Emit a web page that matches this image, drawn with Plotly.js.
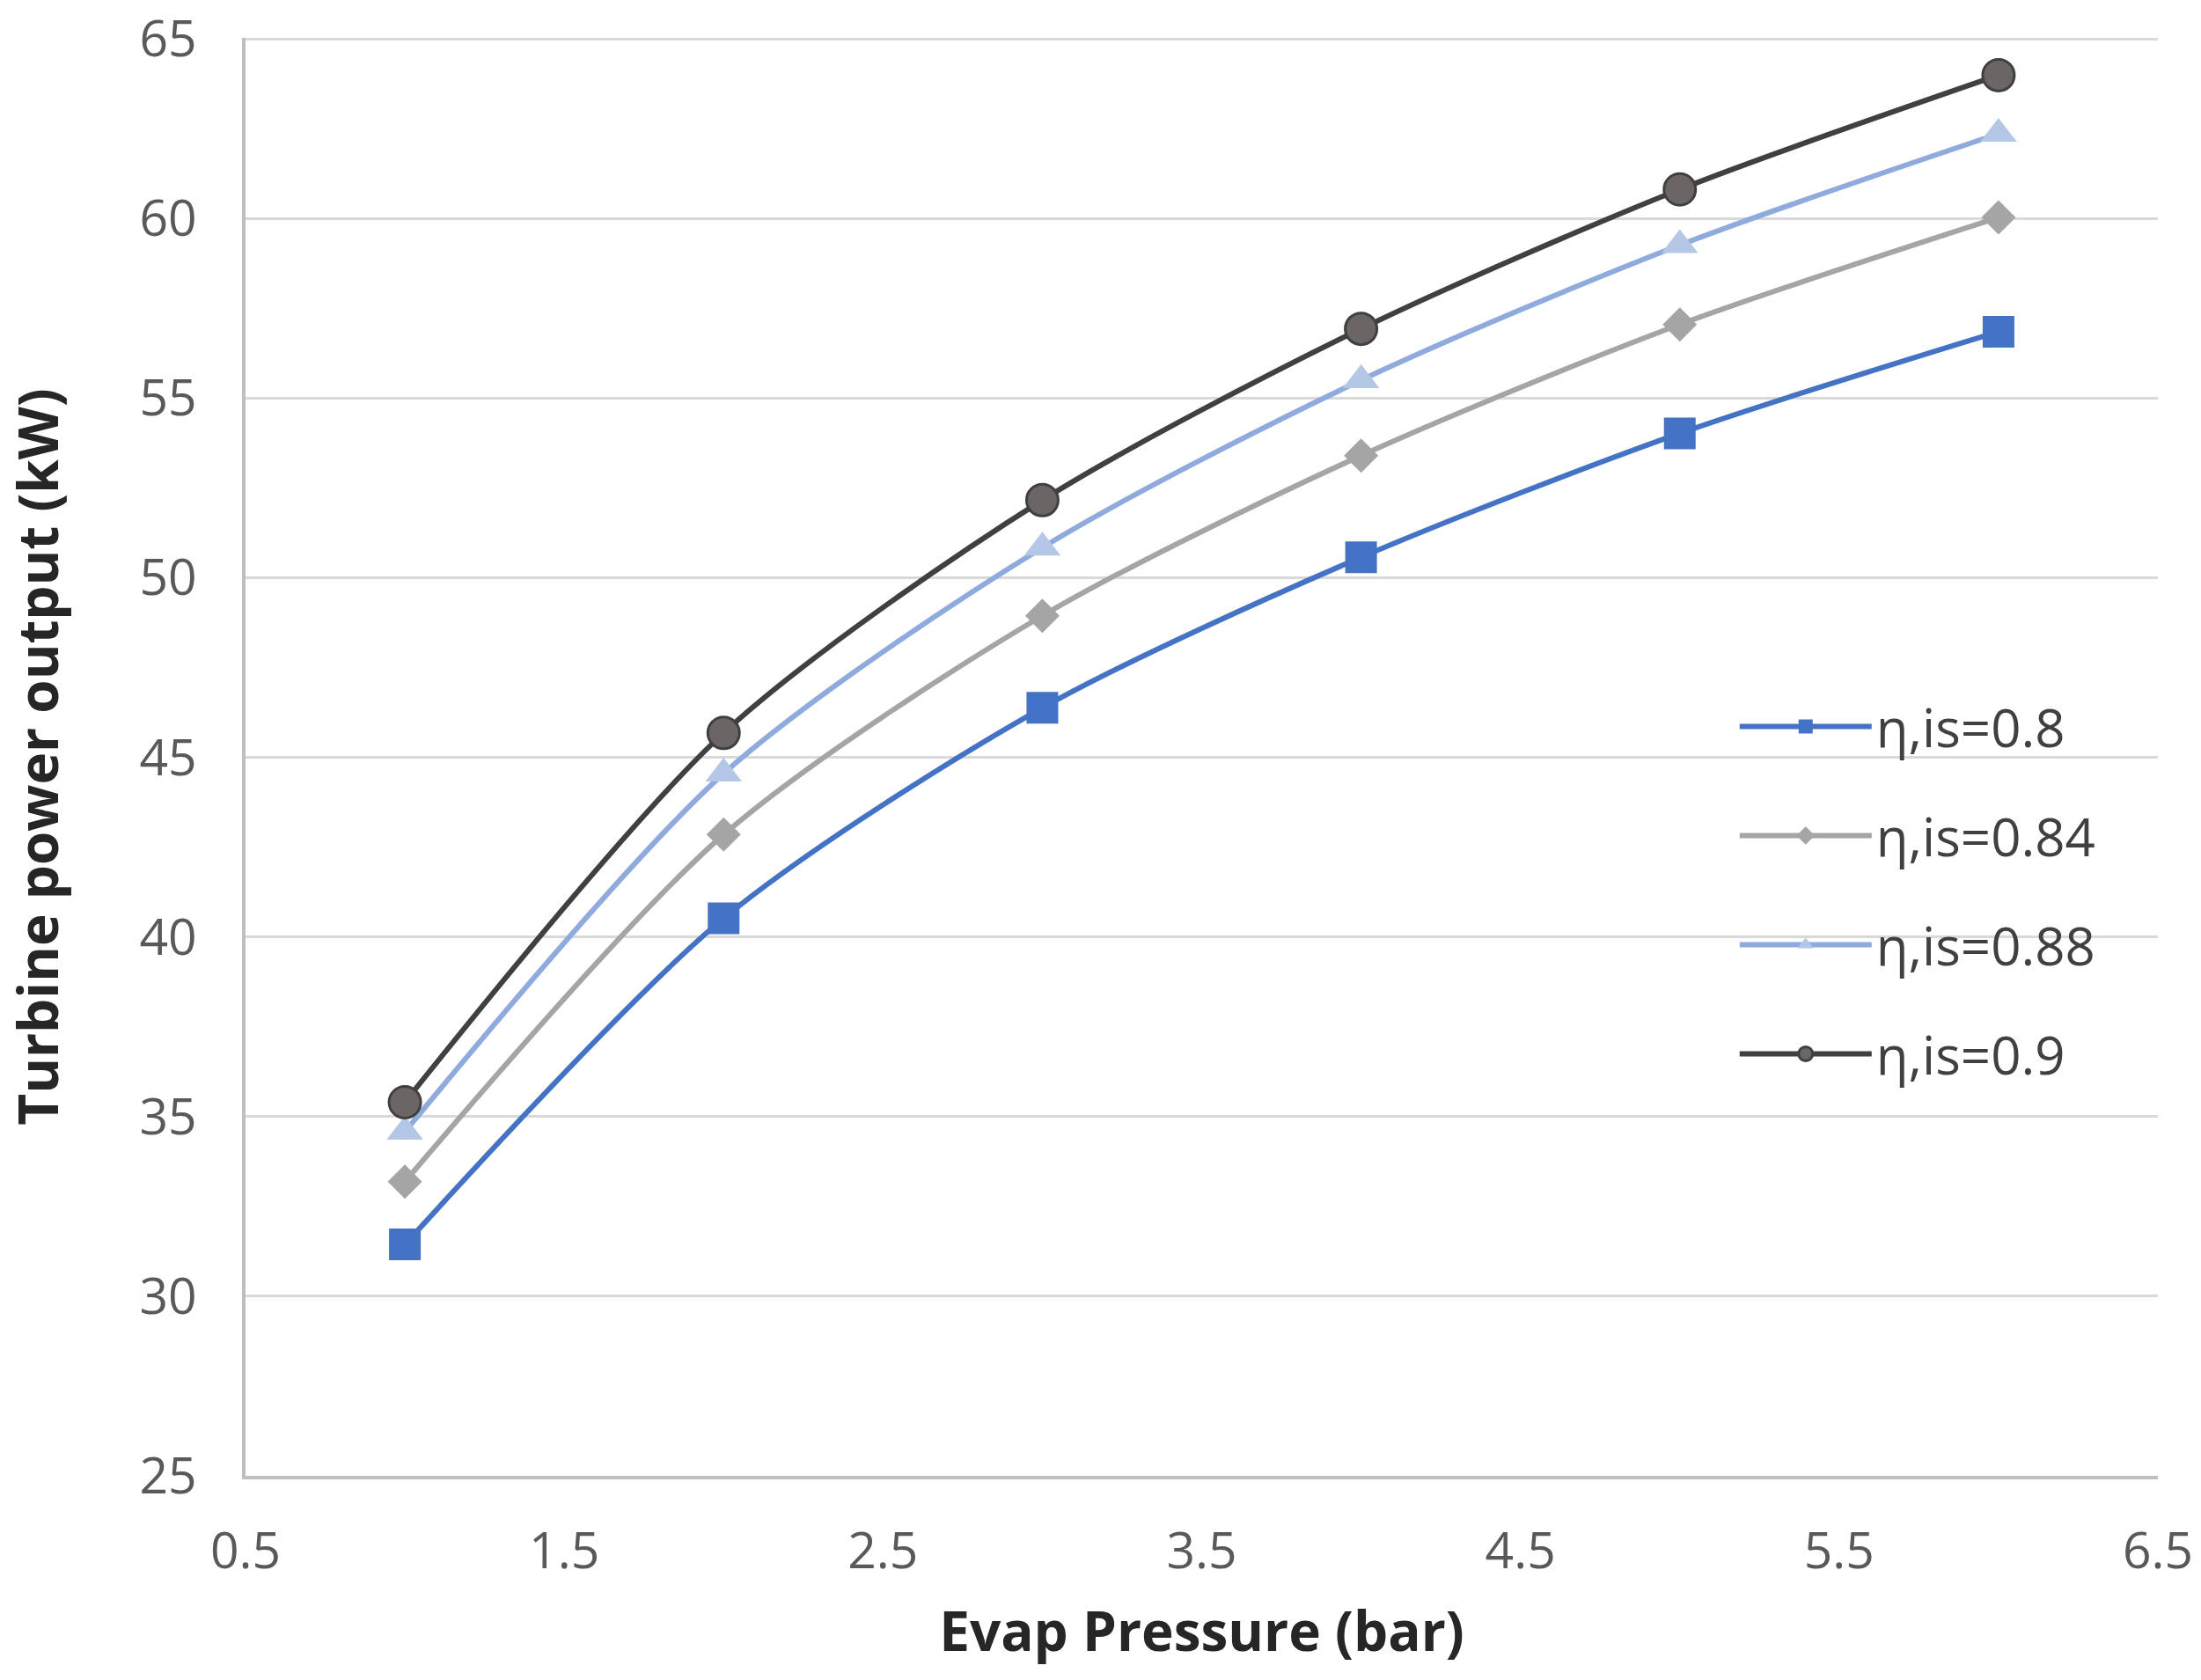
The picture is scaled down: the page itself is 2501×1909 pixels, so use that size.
<!DOCTYPE html>
<html>
<head>
<meta charset="utf-8">
<script src="https://cdn.plot.ly/plotly-3.0.1.min.js"></script>
<style>html,body{margin:0;padding:0;background:#fff;}#chart{width:2501px;height:1909px;}</style>
</head>
<body>
<div id="chart"></div>
<script>
const pressure = [1, 2, 3, 4, 5, 6];
const eta080 = [31.44, 40.52, 46.38, 50.57, 54.02, 56.85];
const eta084 = [33.19, 42.85, 48.94, 53.40, 57.05, 60.03];
const eta088 = [34.58, 44.55, 50.84, 55.50, 59.26, 62.36];
const eta090 = [35.40, 45.68, 52.16, 56.93, 60.81, 63.99];
const seriesNames = ["η,is=0.8", "η,is=0.84", "η,is=0.88", "η,is=0.9"];
const xTicks = [0.5, 1.5, 2.5, 3.5, 4.5, 5.5, 6.5];
const yTicks = [25, 30, 35, 40, 45, 50, 55, 60, 65];

const styles = [
  {line: '#4472C4', marker: {symbol: 'square', size: 36, color: '#4472C4'}},
  {line: '#A5A5A5', marker: {symbol: 'diamond', size: 30, color: '#A5A5A5'}},
  {line: '#8FAADC', marker: {symbol: 'triangle-up', size: 36, color: '#B4C7E7'}},
  {line: '#404040', marker: {symbol: 'circle', size: 36, color: '#6B6566', line: {color: '#404040', width: 3}}}
];
const allY = [eta080, eta084, eta088, eta090];

const traces = allY.map((ys, i) => ({
  x: pressure,
  y: ys,
  name: seriesNames[i],
  type: 'scatter',
  mode: 'lines+markers',
  line: {color: styles[i].line, width: 6, shape: 'spline', smoothing: 0.8},
  marker: styles[i].marker,
  legendgroup: 'g' + i
}));

const font = '"Open Sans", "Noto Sans", sans-serif';
const layout = {
  width: 2501,
  height: 1909,
  paper_bgcolor: '#ffffff',
  plot_bgcolor: '#ffffff',
  margin: {l: 279, r: 49, t: 43, b: 232},
  showlegend: true,
  legend: {
    x: 0.779, xanchor: 'left',
    y: 0.549, yanchor: 'top',
    font: {family: font, size: 60, color: '#404040'},
    bgcolor: 'rgba(255,255,255,0)',
    traceorder: 'grouped',
    tracegroupgap: 43,
    itemwidth: 150
  },
  xaxis: {
    range: [0.5, 6.5],
    tickvals: xTicks,
    ticktext: xTicks.map(v => v.toFixed(1)),
    showgrid: false,
    zeroline: false,
    showline: true,
    linecolor: '#BFBFBF',
    linewidth: 4,
    ticks: '',
    ticklabelstandoff: 33,
    ticklabeloverflow: 'allow',
    tickfont: {family: font, size: 57, color: '#595959'},
    title: {text: 'Evap Pressure (bar)', font: {family: font, size: 62, color: '#262626', weight: 'bold'}, standoff: 35}
  },
  yaxis: {
    range: [25, 65.03],
    tickvals: yTicks,
    showgrid: true,
    gridcolor: '#D9D9D9',
    gridwidth: 3,
    zeroline: false,
    showline: true,
    linecolor: '#BFBFBF',
    linewidth: 4,
    ticks: '',
    ticklabelstandoff: 40,
    ticklabeloverflow: 'allow',
    tickfont: {family: font, size: 57, color: '#595959'},
    title: {text: 'Turbine power output (kW)', font: {family: font, size: 62, color: '#262626', weight: 'bold'}, standoff: 95}
  }
};

Plotly.newPlot('chart', traces, layout, {displayModeBar: false, responsive: false});
</script>
</body>
</html>
